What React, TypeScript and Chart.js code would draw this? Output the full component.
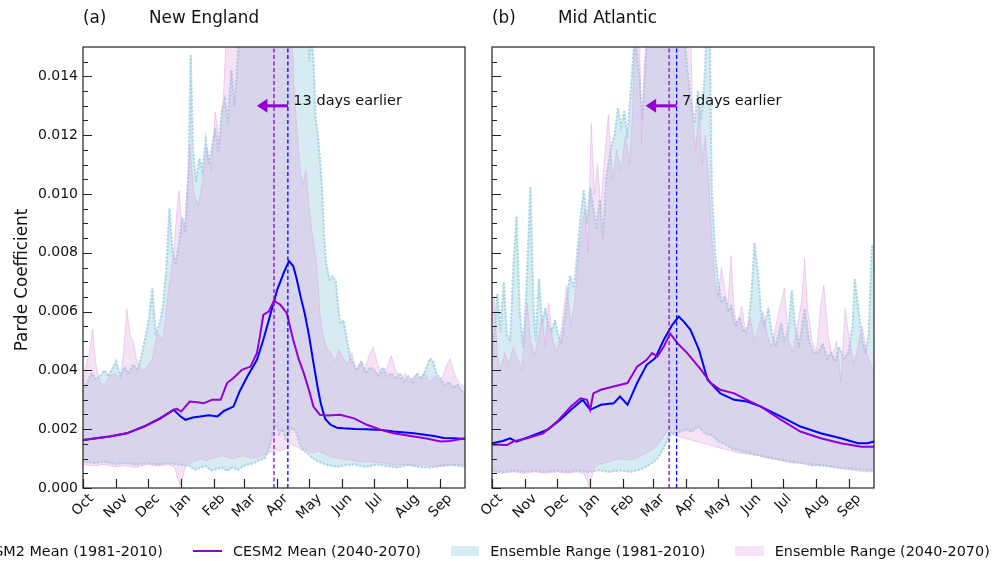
import React, { useEffect, useRef } from 'react';
import { Chart, registerables } from 'chart.js';

Chart.register(...registerables);
Chart.defaults.font.family = '"DejaVu Sans", sans-serif';

type Pair = [number, number];

// ---------- axes ----------
const MONTH_LABELS = ['Oct', 'Nov', 'Dec', 'Jan', 'Feb', 'Mar', 'Apr', 'May', 'Jun', 'Jul', 'Aug', 'Sep'];
const MONTH_START_DAYS = [0, 31, 61, 92, 123, 151, 182, 212, 243, 273, 304, 335];
const DAY_MIN = 0;
const DAY_MAX = 358;
const Y_MIN = 0;
const Y_MAX = 0.015;
const Y_MAJOR_TICKS = [0, 0.002, 0.004, 0.006, 0.008, 0.01, 0.012, 0.014];
const Y_MINOR_TICKS = [0.0005, 0.001, 0.0015, 0.0025, 0.003, 0.0035, 0.0045, 0.005, 0.0055, 0.0065, 0.007, 0.0075,
  0.0085, 0.009, 0.0095, 0.0105, 0.011, 0.0115, 0.0125, 0.013, 0.0135, 0.0145];

// ---------- New England ----------
const NE_HIST_MEAN: Pair[] = [[0, 0.00163], [25, 0.00175], [41, 0.00186], [57, 0.00209], [72, 0.00237], [85, 0.00266], [91, 0.00245], [96, 0.00232], [103, 0.0024], [110, 0.00243], [118, 0.00247], [126, 0.00243], [132, 0.00262], [141, 0.00277], [147, 0.0033], [154, 0.00379], [163, 0.00436], [169, 0.00504], [176, 0.00595], [182, 0.00674], [188, 0.00731], [193, 0.00772], [197, 0.00755], [200, 0.00715], [204, 0.0065], [208, 0.0059], [212, 0.00515], [216, 0.00425], [220, 0.0034], [223, 0.00285], [227, 0.00235], [232, 0.00215], [238, 0.00205], [244, 0.00203], [255, 0.00201], [266, 0.002], [280, 0.00197], [291, 0.00192], [310, 0.00186], [329, 0.00177], [338, 0.0017], [348, 0.00169], [358, 0.00167]];
const NE_FUT_MEAN: Pair[] = [[0, 0.00163], [25, 0.00175], [41, 0.00186], [57, 0.00208], [72, 0.00235], [85, 0.00266], [88, 0.00269], [92, 0.0026], [100, 0.00294], [107, 0.00292], [113, 0.00288], [121, 0.003], [129, 0.003], [135, 0.00357], [141, 0.00374], [149, 0.00402], [157, 0.00413], [163, 0.00459], [166, 0.0052], [169, 0.00589], [174, 0.006], [179, 0.00638], [182, 0.0063], [185, 0.00623], [191, 0.00595], [197, 0.00504], [202, 0.0044], [207, 0.0039], [212, 0.0033], [216, 0.00277], [222, 0.00249], [229, 0.00247], [241, 0.00249], [254, 0.00237], [266, 0.00215], [279, 0.00198], [291, 0.00186], [310, 0.00175], [322, 0.00168], [335, 0.00158], [344, 0.0016], [358, 0.00169]];
const NE_HIST_UPPER: Pair[] = [[0, 0.0033], [4, 0.0036], [8, 0.0039], [12, 0.0037], [16, 0.0038], [20, 0.004], [24, 0.0038], [28, 0.0041], [31, 0.0043], [35, 0.0038], [39, 0.0041], [43, 0.0039], [47, 0.0042], [51, 0.004], [55, 0.0045], [59, 0.0052], [62, 0.0058], [65, 0.0068], [68, 0.0052], [72, 0.0056], [75, 0.0062], [78, 0.0074], [81, 0.0095], [84, 0.008], [87, 0.0076], [90, 0.0083], [93, 0.0092], [96, 0.0087], [99, 0.0108], [101, 0.0147], [103, 0.0115], [106, 0.0104], [109, 0.0112], [112, 0.0108], [115, 0.0118], [118, 0.011], [121, 0.0116], [124, 0.0122], [127, 0.0114], [130, 0.0128], [133, 0.0132], [136, 0.0124], [139, 0.0142], [142, 0.013], [145, 0.0146], [148, 0.016], [210, 0.016], [212, 0.0145], [214, 0.0155], [216, 0.0145], [218, 0.0126], [220, 0.012], [222, 0.0112], [224, 0.0102], [226, 0.0085], [228, 0.0076], [231, 0.0071], [234, 0.0072], [237, 0.007], [239, 0.0062], [241, 0.0056], [244, 0.0057], [247, 0.0051], [250, 0.0045], [253, 0.0042], [257, 0.004], [261, 0.0043], [265, 0.0039], [269, 0.0041], [273, 0.004], [277, 0.0038], [281, 0.0041], [285, 0.0038], [289, 0.0039], [293, 0.0037], [297, 0.0039], [301, 0.0036], [305, 0.0038], [309, 0.0036], [313, 0.0039], [317, 0.0037], [321, 0.004], [325, 0.0044], [328, 0.0043], [331, 0.0039], [335, 0.0037], [339, 0.0035], [343, 0.0036], [347, 0.0034], [351, 0.0035], [355, 0.0033], [358, 0.0032]];
const NE_HIST_LOWER: Pair[] = [[0, 0.0009], [10, 0.00085], [20, 0.0009], [30, 0.00082], [40, 0.00085], [50, 0.0008], [60, 0.00085], [70, 0.0008], [80, 0.00085], [90, 0.0008], [100, 0.00075], [105, 0.00062], [110, 0.0007], [115, 0.00075], [120, 0.0006], [125, 0.00065], [130, 0.0007], [135, 0.00058], [140, 0.0007], [145, 0.00062], [150, 0.00075], [155, 0.0008], [160, 0.00085], [165, 0.00095], [170, 0.001], [174, 0.0013], [178, 0.0019], [181, 0.00215], [184, 0.00185], [187, 0.002], [190, 0.0017], [193, 0.00195], [196, 0.00205], [200, 0.0019], [203, 0.0015], [206, 0.0013], [210, 0.0012], [214, 0.00105], [218, 0.00095], [224, 0.00085], [230, 0.00078], [238, 0.00072], [246, 0.00078], [255, 0.0008], [265, 0.00072], [275, 0.0008], [285, 0.00075], [295, 0.0007], [305, 0.0008], [315, 0.00072], [325, 0.0007], [335, 0.00076], [345, 0.0008], [358, 0.00072]];
const NE_FUT_UPPER: Pair[] = [[0, 0.0034], [3, 0.0042], [6, 0.0046], [9, 0.0054], [12, 0.0042], [16, 0.0036], [20, 0.0035], [25, 0.0038], [30, 0.0039], [35, 0.0037], [38, 0.0046], [41, 0.0061], [44, 0.0052], [47, 0.005], [50, 0.0044], [55, 0.004], [60, 0.0041], [65, 0.0044], [70, 0.0053], [75, 0.005], [79, 0.0064], [82, 0.0072], [85, 0.008], [88, 0.0094], [90, 0.0101], [93, 0.0086], [96, 0.0092], [100, 0.0117], [104, 0.01], [108, 0.0096], [112, 0.0104], [116, 0.0116], [120, 0.0108], [124, 0.0128], [128, 0.0117], [132, 0.0136], [135, 0.016], [195, 0.016], [198, 0.0135], [200, 0.0124], [203, 0.011], [206, 0.0103], [209, 0.0108], [212, 0.0095], [215, 0.0086], [219, 0.0076], [222, 0.0059], [225, 0.0052], [228, 0.0048], [232, 0.0046], [236, 0.0043], [240, 0.0047], [244, 0.0044], [248, 0.0042], [252, 0.0046], [256, 0.004], [260, 0.0043], [264, 0.004], [268, 0.0045], [272, 0.0048], [276, 0.0042], [280, 0.0039], [285, 0.0041], [289, 0.0045], [293, 0.004], [297, 0.0037], [302, 0.0039], [306, 0.0036], [310, 0.0038], [315, 0.0037], [320, 0.0039], [325, 0.0036], [330, 0.0038], [335, 0.0036], [340, 0.0041], [344, 0.0044], [348, 0.0039], [352, 0.0036], [358, 0.0034]];
const NE_FUT_LOWER: Pair[] = [[0, 0.0008], [10, 0.00075], [20, 0.0008], [30, 0.00072], [40, 0.00076], [50, 0.0007], [60, 0.0008], [70, 0.00075], [80, 0.0008], [86, 0.0007], [89, 0.0003], [91, 0.0001], [93, 0.0003], [96, 0.00075], [100, 0.00085], [105, 0.0009], [110, 0.001], [115, 0.00092], [120, 0.001], [130, 0.0011], [140, 0.001], [150, 0.0011], [160, 0.001], [168, 0.0011], [175, 0.0012], [180, 0.0013], [185, 0.00125], [190, 0.00135], [195, 0.0015], [200, 0.0014], [205, 0.0013], [210, 0.0013], [215, 0.0012], [220, 0.00125], [225, 0.0012], [230, 0.0011], [240, 0.001], [250, 0.00095], [260, 0.0009], [270, 0.0009], [280, 0.00085], [290, 0.0008], [300, 0.0008], [310, 0.00075], [320, 0.0008], [330, 0.00072], [340, 0.00075], [350, 0.0008], [358, 0.0008]];
const NE_HIST_PEAK_DAY = 192;
const NE_FUT_PEAK_DAY = 179;
const NE_ARROW_TIP_DAY = 163;

// ---------- Mid Atlantic ----------
const MA_HIST_MEAN: Pair[] = [[0, 0.00152], [10, 0.0016], [17, 0.00169], [23, 0.00158], [39, 0.0018], [52, 0.00198], [64, 0.00232], [74, 0.00266], [85, 0.003], [92, 0.00266], [102, 0.00283], [114, 0.00288], [120, 0.00311], [127, 0.00283], [136, 0.00357], [145, 0.00419], [153, 0.00442], [161, 0.00504], [169, 0.00555], [175, 0.00583], [180, 0.00565], [186, 0.00538], [194, 0.0047], [202, 0.00368], [214, 0.00322], [227, 0.003], [239, 0.00294], [252, 0.00277], [271, 0.00243], [289, 0.00209], [308, 0.00186], [327, 0.00169], [343, 0.00152], [352, 0.00152], [358, 0.00158]];
const MA_FUT_MEAN: Pair[] = [[0, 0.00148], [14, 0.00146], [20, 0.00158], [33, 0.00169], [48, 0.00186], [61, 0.00226], [74, 0.00277], [83, 0.00305], [89, 0.003], [92, 0.00266], [95, 0.00322], [102, 0.00334], [114, 0.00345], [127, 0.00357], [136, 0.00413], [145, 0.00436], [150, 0.00459], [155, 0.00447], [161, 0.00481], [167, 0.00525], [174, 0.00492], [183, 0.00459], [196, 0.00402], [205, 0.00357], [214, 0.00334], [227, 0.00322], [239, 0.003], [252, 0.00277], [271, 0.00232], [289, 0.00192], [308, 0.00169], [327, 0.00152], [346, 0.0014], [358, 0.0014]];
const MA_HIST_UPPER: Pair[] = [[0, 0.0045], [3, 0.0055], [5, 0.0066], [8, 0.0053], [11, 0.007], [14, 0.0052], [17, 0.005], [20, 0.0075], [23, 0.0092], [26, 0.006], [29, 0.0048], [32, 0.0065], [36, 0.0102], [39, 0.006], [41, 0.005], [44, 0.0071], [47, 0.0056], [50, 0.0061], [53, 0.0055], [56, 0.0053], [59, 0.0057], [62, 0.0052], [65, 0.0049], [69, 0.006], [73, 0.0072], [77, 0.0068], [80, 0.008], [83, 0.0092], [86, 0.0101], [89, 0.009], [92, 0.0102], [95, 0.0095], [98, 0.0088], [101, 0.0098], [104, 0.0085], [107, 0.0105], [111, 0.0115], [115, 0.012], [118, 0.0129], [121, 0.0123], [124, 0.0128], [127, 0.0119], [130, 0.0135], [134, 0.0155], [138, 0.014], [141, 0.0125], [144, 0.0145], [147, 0.016], [178, 0.016], [181, 0.015], [184, 0.0139], [187, 0.013], [190, 0.0124], [193, 0.0135], [196, 0.0125], [199, 0.0138], [202, 0.016], [204, 0.0155], [206, 0.0101], [209, 0.008], [212, 0.007], [215, 0.0063], [218, 0.0065], [221, 0.006], [224, 0.0062], [228, 0.0055], [232, 0.0058], [236, 0.0053], [240, 0.0055], [243, 0.0065], [246, 0.0083], [249, 0.0074], [252, 0.006], [255, 0.0055], [259, 0.0061], [262, 0.0053], [266, 0.0048], [271, 0.0056], [274, 0.005], [278, 0.0054], [281, 0.0067], [284, 0.0055], [288, 0.0048], [293, 0.0061], [297, 0.005], [301, 0.0046], [306, 0.0046], [310, 0.0049], [314, 0.0044], [318, 0.0046], [322, 0.0043], [325, 0.0048], [330, 0.0044], [334, 0.0046], [338, 0.0055], [340, 0.0071], [343, 0.0062], [347, 0.005], [350, 0.0046], [353, 0.0052], [356, 0.0082], [358, 0.0083]];
const MA_HIST_LOWER: Pair[] = [[0, 0.0006], [10, 0.00055], [20, 0.0006], [30, 0.00055], [40, 0.0006], [50, 0.00055], [60, 0.0006], [70, 0.00055], [80, 0.0006], [90, 0.00055], [100, 0.0006], [110, 0.00055], [120, 0.0006], [130, 0.00055], [140, 0.00065], [148, 0.0008], [155, 0.001], [160, 0.0013], [164, 0.0016], [168, 0.00185], [175, 0.0019], [182, 0.002], [187, 0.00192], [193, 0.0021], [200, 0.00185], [206, 0.0018], [212, 0.0016], [218, 0.0015], [225, 0.00135], [235, 0.00125], [250, 0.00112], [265, 0.001], [281, 0.0009], [300, 0.0008], [320, 0.00072], [340, 0.00065], [358, 0.0006]];
const MA_FUT_UPPER: Pair[] = [[0, 0.005], [2, 0.0065], [5, 0.0045], [8, 0.004], [12, 0.0046], [16, 0.0042], [20, 0.0048], [24, 0.0044], [28, 0.004], [33, 0.0063], [36, 0.005], [40, 0.0045], [44, 0.0052], [47, 0.0058], [50, 0.0048], [53, 0.0063], [57, 0.005], [61, 0.0046], [65, 0.0054], [70, 0.0069], [74, 0.0055], [78, 0.0065], [81, 0.0079], [84, 0.0088], [87, 0.0095], [90, 0.008], [93, 0.0124], [96, 0.01], [99, 0.011], [102, 0.0095], [105, 0.011], [109, 0.0127], [113, 0.0105], [117, 0.0115], [121, 0.0108], [125, 0.012], [129, 0.011], [132, 0.013], [134, 0.016], [138, 0.016], [140, 0.0117], [143, 0.0145], [146, 0.016], [186, 0.016], [188, 0.0125], [191, 0.0115], [194, 0.013], [197, 0.011], [200, 0.012], [203, 0.0105], [206, 0.0085], [209, 0.007], [212, 0.0065], [215, 0.0075], [218, 0.0068], [221, 0.0062], [224, 0.0079], [227, 0.006], [230, 0.0055], [234, 0.0062], [238, 0.0052], [242, 0.0058], [246, 0.005], [250, 0.0055], [254, 0.006], [258, 0.0052], [262, 0.0048], [266, 0.0055], [270, 0.0062], [274, 0.0068], [278, 0.005], [282, 0.0046], [286, 0.0055], [290, 0.0063], [293, 0.0078], [296, 0.006], [300, 0.005], [304, 0.0046], [308, 0.0062], [311, 0.0069], [315, 0.0052], [319, 0.0044], [323, 0.005], [327, 0.0036], [331, 0.0061], [335, 0.005], [339, 0.0042], [343, 0.0048], [347, 0.0055], [351, 0.0046], [355, 0.0042], [358, 0.004]];
const MA_FUT_LOWER: Pair[] = [[0, 0.00055], [10, 0.0005], [20, 0.00055], [30, 0.0005], [40, 0.00055], [50, 0.0005], [60, 0.00055], [70, 0.0005], [80, 0.00055], [86, 0.0005], [89, 0.00025], [91, 0.00005], [93, 0.0003], [96, 0.0007], [100, 0.0008], [110, 0.0009], [120, 0.001], [130, 0.00095], [140, 0.0011], [150, 0.0013], [156, 0.0015], [160, 0.0017], [165, 0.002], [170, 0.0018], [180, 0.0017], [190, 0.0016], [200, 0.0015], [210, 0.0014], [220, 0.0013], [230, 0.0012], [240, 0.00115], [250, 0.0011], [260, 0.001], [270, 0.00095], [280, 0.00085], [290, 0.00085], [300, 0.00075], [310, 0.0008], [320, 0.0007], [330, 0.00065], [340, 0.0006], [350, 0.00055], [358, 0.00055]];
const MA_HIST_PEAK_DAY = 173;
const MA_FUT_PEAK_DAY = 166;
const MA_ARROW_TIP_DAY = 144;

const ARROW_LEVEL = 0.013;

// ---------- styles ----------
const HIST_COLOR = '#0000ff';
const FUT_COLOR = '#9400d3';
const HIST_FILL = 'rgba(173,216,230,0.5)';
const FUT_FILL = 'rgba(221,160,221,0.3)';
const HIST_EDGE = 'rgba(173,216,230,1)';
const FUT_EDGE = 'rgba(221,160,221,0.45)';
const TEXT = '#111';
const FONT = '"DejaVu Sans", sans-serif';

interface PanelSpec {
  tag: string;
  name: string;
  note: string;
  histMean: Pair[];
  futMean: Pair[];
  histUpper: Pair[];
  histLower: Pair[];
  futUpper: Pair[];
  futLower: Pair[];
  histPeak: number;
  futPeak: number;
  arrowTip: number;
  showYLabels: boolean;
  yTitle: string | null;
  axisWidth: number;
  rightPad: number;
  canvasLeft: number;
  canvasWidth: number;
}

const PANELS: PanelSpec[] = [
  {
    tag: '(a)', name: 'New England', note: '13 days earlier',
    histMean: NE_HIST_MEAN, futMean: NE_FUT_MEAN,
    histUpper: NE_HIST_UPPER, histLower: NE_HIST_LOWER,
    futUpper: NE_FUT_UPPER, futLower: NE_FUT_LOWER,
    histPeak: NE_HIST_PEAK_DAY, futPeak: NE_FUT_PEAK_DAY, arrowTip: NE_ARROW_TIP_DAY,
    showYLabels: true, yTitle: 'Parde Coefficient', axisWidth: 83, rightPad: 15,
    canvasLeft: 0, canvasWidth: 480,
  },
  {
    tag: '(b)', name: 'Mid Atlantic', note: '7 days earlier',
    histMean: MA_HIST_MEAN, futMean: MA_FUT_MEAN,
    histUpper: MA_HIST_UPPER, histLower: MA_HIST_LOWER,
    futUpper: MA_FUT_UPPER, futLower: MA_FUT_LOWER,
    histPeak: MA_HIST_PEAK_DAY, futPeak: MA_FUT_PEAK_DAY, arrowTip: MA_ARROW_TIP_DAY,
    showYLabels: false, yTitle: null, axisWidth: 12, rightPad: 6,
    canvasLeft: 480, canvasWidth: 400,
  },
];

const LEGEND_ITEMS = [
  { label: 'CESM2 Mean (1981-2010)', kind: 'line', color: HIST_COLOR },
  { label: 'CESM2 Mean (2040-2070)', kind: 'line', color: FUT_COLOR },
  { label: 'Ensemble Range (1981-2010)', kind: 'patch', color: HIST_FILL },
  { label: 'Ensemble Range (2040-2070)', kind: 'patch', color: FUT_FILL },
];

const toXY = (pairs: Pair[]) => pairs.map(([x, y]) => ({ x, y }));
const vline = (day: number) => [{ x: day, y: Y_MIN }, { x: day, y: Y_MAX }];

function decorPlugin(spec: PanelSpec) {
  return {
    id: 'decor',
    afterDraw(chart: any) {
      const { ctx, chartArea: a, scales } = chart;
      const xs = scales.x;
      const ys = scales.y;
      ctx.save();
      // frame
      ctx.strokeStyle = '#222';
      ctx.lineWidth = 1.2;
      ctx.strokeRect(a.left, a.top, a.right - a.left, a.bottom - a.top);
      // inward ticks
      ctx.beginPath();
      for (const v of Y_MAJOR_TICKS) {
        const y = Math.round(ys.getPixelForValue(v)) + 0.5;
        ctx.moveTo(a.left, y);
        ctx.lineTo(a.left + 9, y);
      }
      for (const v of Y_MINOR_TICKS) {
        const y = Math.round(ys.getPixelForValue(v)) + 0.5;
        ctx.moveTo(a.left, y);
        ctx.lineTo(a.left + 5, y);
      }
      for (const d of MONTH_START_DAYS) {
        const x = Math.round(xs.getPixelForValue(d)) + 0.5;
        ctx.moveTo(x, a.bottom);
        ctx.lineTo(x, a.bottom - 9);
      }
      ctx.stroke();
      // month labels, rotated 45 deg, centred under ticks
      ctx.fillStyle = TEXT;
      ctx.font = `14px ${FONT}`;
      MONTH_LABELS.forEach((lab, i) => {
        const x = xs.getPixelForValue(MONTH_START_DAYS[i]);
        const w = ctx.measureText(lab).width;
        const h = (w + 13) * Math.SQRT1_2;
        ctx.save();
        ctx.translate(x, a.bottom + 4 + h / 2);
        ctx.rotate(-Math.PI / 4);
        ctx.textAlign = 'center';
        ctx.textBaseline = 'middle';
        ctx.fillText(lab, 0, 0);
        ctx.restore();
      });
      // panel titles
      ctx.font = `16.8px ${FONT}`;
      ctx.textAlign = 'left';
      ctx.textBaseline = 'alphabetic';
      ctx.fillText(spec.tag, a.left, 22.5);
      ctx.fillText(spec.name, a.left + 66, 22.5);
      // arrow
      const ay = ys.getPixelForValue(ARROW_LEVEL);
      const x0 = xs.getPixelForValue(spec.histPeak);
      const x1 = xs.getPixelForValue(spec.arrowTip);
      ctx.strokeStyle = FUT_COLOR;
      ctx.fillStyle = FUT_COLOR;
      ctx.lineWidth = 3;
      ctx.beginPath();
      ctx.moveTo(x0, ay);
      ctx.lineTo(x1 + 9, ay);
      ctx.stroke();
      ctx.beginPath();
      ctx.moveTo(x1, ay);
      ctx.lineTo(x1 + 10.5, ay - 7);
      ctx.lineTo(x1 + 10.5, ay + 7);
      ctx.closePath();
      ctx.fill();
      // annotation
      ctx.fillStyle = TEXT;
      ctx.font = `14.5px ${FONT}`;
      ctx.fillText(spec.note, x0 + 5.5, ay - 0.5);
      // y title
      if (spec.yTitle) {
        ctx.save();
        ctx.translate(27, 280);
        ctx.rotate(-Math.PI / 2);
        ctx.textAlign = 'center';
        ctx.textBaseline = 'alphabetic';
        ctx.font = `16.8px ${FONT}`;
        ctx.fillText(spec.yTitle, 0, 0);
        ctx.restore();
      }
      ctx.restore();
    },
  };
}

function buildConfig(spec: PanelSpec): any {
  const lineBase = { pointRadius: 0, tension: 0, fill: false };
  return {
    type: 'line',
    data: {
      datasets: [
        { ...lineBase, label: 'vf', data: vline(spec.futPeak), borderColor: FUT_COLOR, borderWidth: 1.3, borderDash: [4, 2.5], order: 0 },
        { ...lineBase, label: 'vh', data: vline(spec.histPeak), borderColor: HIST_COLOR, borderWidth: 1.3, borderDash: [4, 2.5], order: 0 },
        { ...lineBase, label: 'CESM2 Mean (2040-2070)', data: toXY(spec.futMean), borderColor: FUT_COLOR, borderWidth: 2, order: 0 },
        { ...lineBase, label: 'CESM2 Mean (1981-2010)', data: toXY(spec.histMean), borderColor: HIST_COLOR, borderWidth: 2, order: 0 },
        { ...lineBase, label: 'fut up', data: toXY(spec.futUpper), borderColor: FUT_EDGE, borderWidth: 1, fill: '+1', backgroundColor: FUT_FILL, order: 1, clip: 0 },
        { ...lineBase, label: 'fut lo', data: toXY(spec.futLower), borderColor: FUT_EDGE, borderWidth: 1, order: 1, clip: 0 },
        { ...lineBase, label: 'hist up', data: toXY(spec.histUpper), borderColor: HIST_EDGE, borderWidth: 2.4, borderDash: [0.5, 3.2], borderCapStyle: 'round', fill: '+1', backgroundColor: HIST_FILL, order: 2, clip: 0 },
        { ...lineBase, label: 'hist lo', data: toXY(spec.histLower), borderColor: HIST_EDGE, borderWidth: 2.4, borderDash: [0.5, 3.2], borderCapStyle: 'round', order: 2, clip: 0 },
      ],
    },
    options: {
      animation: false,
      responsive: false,
      devicePixelRatio: 1,
      events: [],
      layout: { padding: { left: 0, top: 47, right: spec.rightPad, bottom: 0 } },
      plugins: {
        legend: { display: false },
        tooltip: { enabled: false },
        title: { display: false },
      },
      scales: {
        x: {
          type: 'linear',
          min: DAY_MIN,
          max: DAY_MAX,
          grid: { display: false, drawTicks: false, tickLength: 0 },
          border: { display: false },
          ticks: { display: false },
          afterFit: (s: any) => { s.height = 73; },
        },
        y: {
          type: 'linear',
          min: Y_MIN,
          max: Y_MAX,
          grid: { display: false, drawTicks: false, tickLength: 0 },
          border: { display: false },
          afterBuildTicks: (s: any) => { s.ticks = Y_MAJOR_TICKS.map((v) => ({ value: v })); },
          ticks: {
            display: spec.showYLabels,
            autoSkip: false,
            padding: 5,
            color: TEXT,
            font: { family: FONT, size: 14 },
            callback: (v: any) => Number(v).toFixed(3),
          },
          afterFit: (s: any) => { s.width = spec.axisWidth; },
        },
      },
    },
    plugins: [decorPlugin(spec)],
  };
}

function Panel({ spec }: { spec: PanelSpec }) {
  const ref = useRef<HTMLCanvasElement | null>(null);
  useEffect(() => {
    if (!ref.current) return;
    const chart = new Chart(ref.current, buildConfig(spec));
    return () => chart.destroy();
  }, [spec]);
  return (
    <canvas
      ref={ref}
      width={spec.canvasWidth}
      height={561}
      style={{ position: 'absolute', left: spec.canvasLeft, top: 0, width: spec.canvasWidth, height: 561 }}
    />
  );
}

export default function App() {
  return (
    <div style={{ position: 'fixed', left: 0, top: 0, width: 1001, height: 561, overflow: 'hidden', background: '#fff' }}>
      {PANELS.map((p) => <Panel key={p.tag} spec={p} />)}
      <div
        style={{
          position: 'absolute', left: -65, top: 542, height: 18, display: 'flex', alignItems: 'center',
          whiteSpace: 'nowrap', fontFamily: FONT, fontSize: '14.4px', color: TEXT,
        }}
      >
        {LEGEND_ITEMS.map((it) => (
          <div key={it.label} style={{ display: 'flex', alignItems: 'center', marginRight: 30 }}>
            {it.kind === 'line'
              ? <div style={{ width: 29, height: 2, background: it.color }} />
              : <div style={{ width: 28.5, height: 10, background: it.color }} />}
            <span style={{ marginLeft: 11 }}>{it.label}</span>
          </div>
        ))}
      </div>
    </div>
  );
}
